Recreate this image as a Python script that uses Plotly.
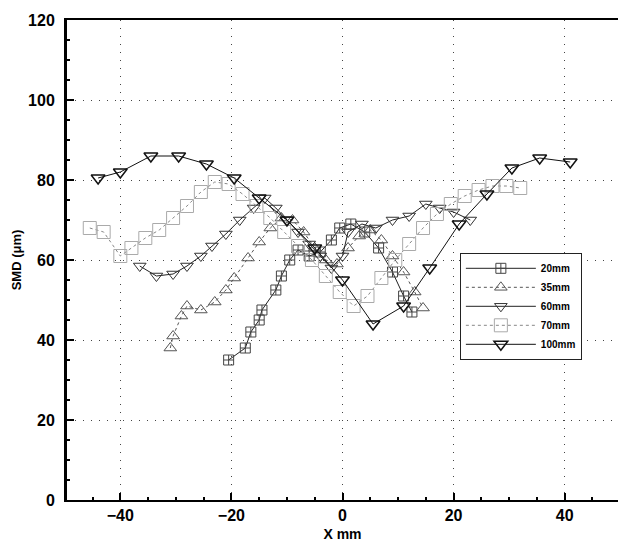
import plotly.graph_objects as go

# Spray SMD profiles across the spray (X, mm) at several axial distances
x_20mm = [-20.5, -17.5, -16.5, -15, -14.5, -12, -11, -9.5, -8, -6, -4, -2, -0.5, 1.5, 4, 6.5, 9, 11, 12.5]
smd_20mm = [35, 38, 42, 45, 47.5, 52.5, 56, 60, 62.5, 61, 62, 65, 68, 69, 67, 63, 57, 51, 47]

x_35mm = [-31, -30.5, -29, -28, -25.5, -23, -21, -19.5, -17, -15, -13, -11, -9, -7, -5, -3, -1,
          1, 3, 5, 7, 9, 11, 13, 14.5]
smd_35mm = [38, 41, 46, 48.5, 47.5, 49.5, 52.5, 55.5, 60.5, 64.5, 68, 70.5, 70, 67, 63, 60, 59,
            63, 66, 67.5, 65, 61, 57, 52, 48]

x_60mm = [-36.5, -33.5, -30.5, -28, -25.5, -23.5, -21, -18.5, -16, -14, -12, -10, -8, -6, -4, -2,
          0, 1, 3.5, 6, 9, 12, 15, 17.5, 20, 23]
smd_60mm = [58.5, 56, 56.5, 58.5, 61, 63.5, 66.5, 70, 73, 75.5, 73, 70, 67, 64, 61, 58,
            61, 67, 69, 68, 70, 71, 74, 73, 72, 70]

x_70mm = [-45.5, -43, -40, -38, -35.5, -33, -30.5, -28, -25.5, -23, -20.5, -18, -15.5, -13, -10.5,
          -8, -5.5, -3, -0.5, 2, 4.5, 7, 9.5, 12, 14.5, 17, 19.5, 22, 24.5, 27, 29.5, 32]
smd_70mm = [68, 67, 61, 63, 65.5, 67.5, 70.5, 73.5, 77, 79.5, 79, 76.5, 73.5, 70.5, 67,
            63.5, 60, 56, 52, 48.5, 51, 55.5, 60, 64, 68, 71.5, 74, 76, 77.5, 78.5, 78.5, 78]

x_100mm = [-44, -40, -34.5, -29.5, -24.5, -19.5, -15, -10, -5, 0, 5.5, 11, 15.7, 21, 26, 30.5, 35.5, 41]
smd_100mm = [80.5, 82, 86, 86, 84, 80.5, 75.5, 70, 63, 55, 44, 48.5, 58, 69, 76.5, 83, 85.5, 84.5]

series_names = ["20mm", "35mm", "60mm", "70mm", "100mm"]

x_ticks = [-40, -20, 0, 20, 40]
y_ticks = [0, 20, 40, 60, 80, 100, 120]

series = [
    (x_20mm, smd_20mm, dict(color="#222", width=1, dash="solid"),
     dict(symbol="square-cross-open", size=10, color="#444", line=dict(width=1))),
    (x_35mm, smd_35mm, dict(color="#555", width=1, dash="dot"),
     dict(symbol="triangle-up-open", size=11, color="#555", line=dict(width=1))),
    (x_60mm, smd_60mm, dict(color="#222", width=1, dash="solid"),
     dict(symbol="triangle-down-open", size=11, color="#333", line=dict(width=1))),
    (x_70mm, smd_70mm, dict(color="#888", width=1, dash="dot"),
     dict(symbol="square-open", size=13, color="#aaa", line=dict(width=1))),
    (x_100mm, smd_100mm, dict(color="#111", width=1, dash="solid"),
     dict(symbol="triangle-down-open", size=12, color="#111", line=dict(width=1.5))),
]

fig = go.Figure()
for name, (xs, ys, ln, mk) in zip(series_names, series):
    fig.add_trace(go.Scatter(x=xs, y=ys, name=name, mode="lines+markers", line=ln, marker=mk))

bold = dict(family="Liberation Sans, Arial, sans-serif", size=16, color="black", weight="bold")

fig.update_layout(
    width=618, height=551,
    margin=dict(l=67, r=0, t=20, b=51),
    paper_bgcolor="white", plot_bgcolor="white",
    font=dict(family="Liberation Sans, Arial, sans-serif", color="black"),
    legend=dict(
        x=0.713, y=0.515, xanchor="left", yanchor="top",
        bgcolor="white", bordercolor="#222", borderwidth=1,
        font=dict(size=10, weight="bold", family="Liberation Sans, Arial, sans-serif"),
        itemwidth=70, tracegroupgap=0,
    ),
    xaxis=dict(
        range=[-49.6, 49.6], tickvals=x_ticks, ticks="inside", ticklen=7,
        tickcolor="black", tickwidth=1.5,
        minor=dict(ticks="inside", ticklen=3, dtick=5, tickcolor="black", showgrid=False),
        showline=True, linecolor="black", linewidth=2, mirror=True,
        showgrid=True, gridcolor="#444", gridwidth=1, griddash="1px,7px",
        zeroline=False, tickfont=bold,
        title=dict(text="X mm", font=dict(size=14, weight="bold"), standoff=6),
    ),
    yaxis=dict(
        range=[0, 120], tickvals=y_ticks, ticks="inside", ticklen=7,
        tickcolor="black", tickwidth=1.5,
        minor=dict(ticks="inside", ticklen=3, dtick=5, tickcolor="black", showgrid=False),
        showline=True, linecolor="black", linewidth=3, mirror=False,
        showgrid=True, gridcolor="#444", gridwidth=1, griddash="1px,7px",
        zeroline=False, tickfont=bold, ticklabelstandoff=6,
        title=dict(text="SMD (μm)", font=dict(size=13, weight="bold"), standoff=4),
    ),
)

fig.write_html("out.html")
